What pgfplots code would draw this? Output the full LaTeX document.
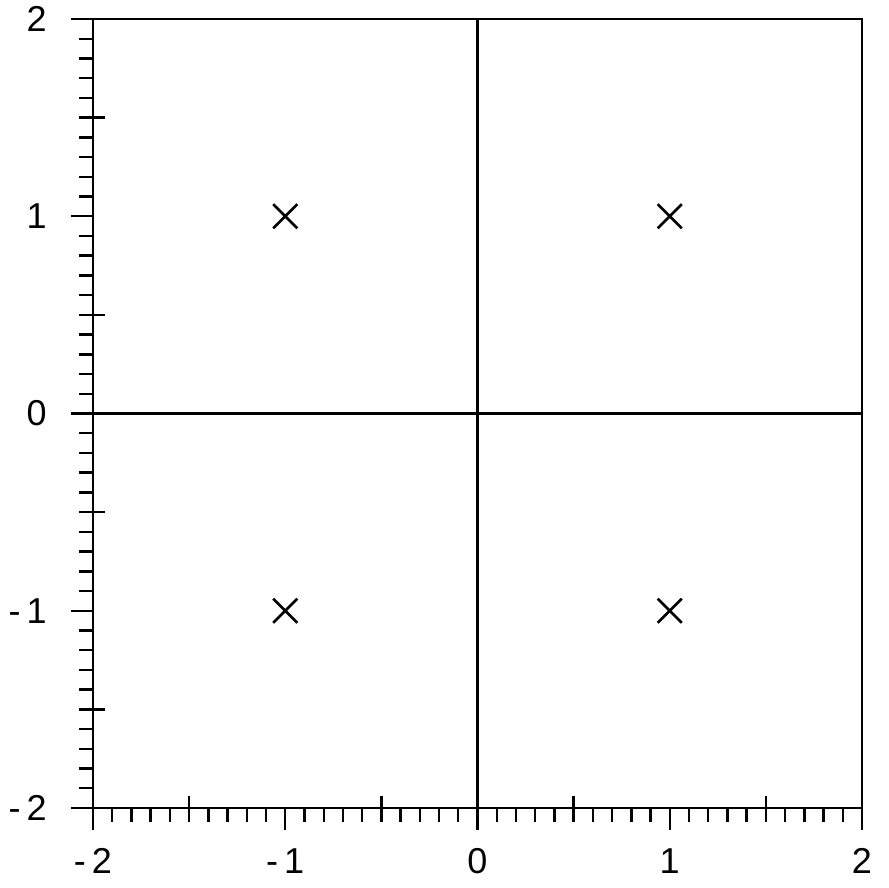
\documentclass[border=0pt]{standalone}
\usepackage{fontspec}
\setmainfont{Liberation Sans}
\usepackage{pgfplots}
\pgfplotsset{compat=1.18}

\begin{document}
\fontsize{18}{21}\selectfont
\begin{tikzpicture}
\begin{axis}[
  name=ax,
  scale only axis,
  width=384.5pt, height=394.5pt,
  xmin=-2, xmax=2, ymin=-2, ymax=2,
  axis line style={line width=1.3pt},
  every tick/.style={line width=1.2pt, black},
  xtick pos=bottom, ytick pos=left,
  tick align=outside,
  xtick={-2,-1,0,1,2}, ytick={-2,-1,0,1,2},
  xticklabels={-\,2,-\,1,0,1,2},
  yticklabels={-\,2,-\,1,0,1,2},
  minor tick num=9,
  major tick length=11pt,
  minor tick length=7pt,
  extra x ticks={-1.5,-0.5,0.5,1.5},
  extra y ticks={-1.5,-0.5,0.5,1.5},
  extra x tick labels={}, extra y tick labels={},
  extra tick style={tick align=center, major tick length=12pt},
  /pgf/number format/assume math mode=true,
  xticklabel style={yshift=-3pt},
  yticklabel style={xshift=-6pt},
  clip=false,
]
  % coordinate axes through the origin
  \addplot[black, line width=1.2pt] coordinates {(0,-2) (0,2)};
  \addplot[black, line width=1.2pt] coordinates {(-2,0) (2,0)};
  % the four points
  \addplot[only marks, mark=x, mark size=8.5pt, line width=1.3pt, black]
    coordinates {(-1,1) (1,1) (-1,-1) (1,-1)};
\end{axis}
\pgfresetboundingbox
\path ([shift={(-46.5pt,-40pt)}]ax.south west) rectangle ([shift={(13pt,9.5pt)}]ax.north east);
\end{tikzpicture}
\end{document}
